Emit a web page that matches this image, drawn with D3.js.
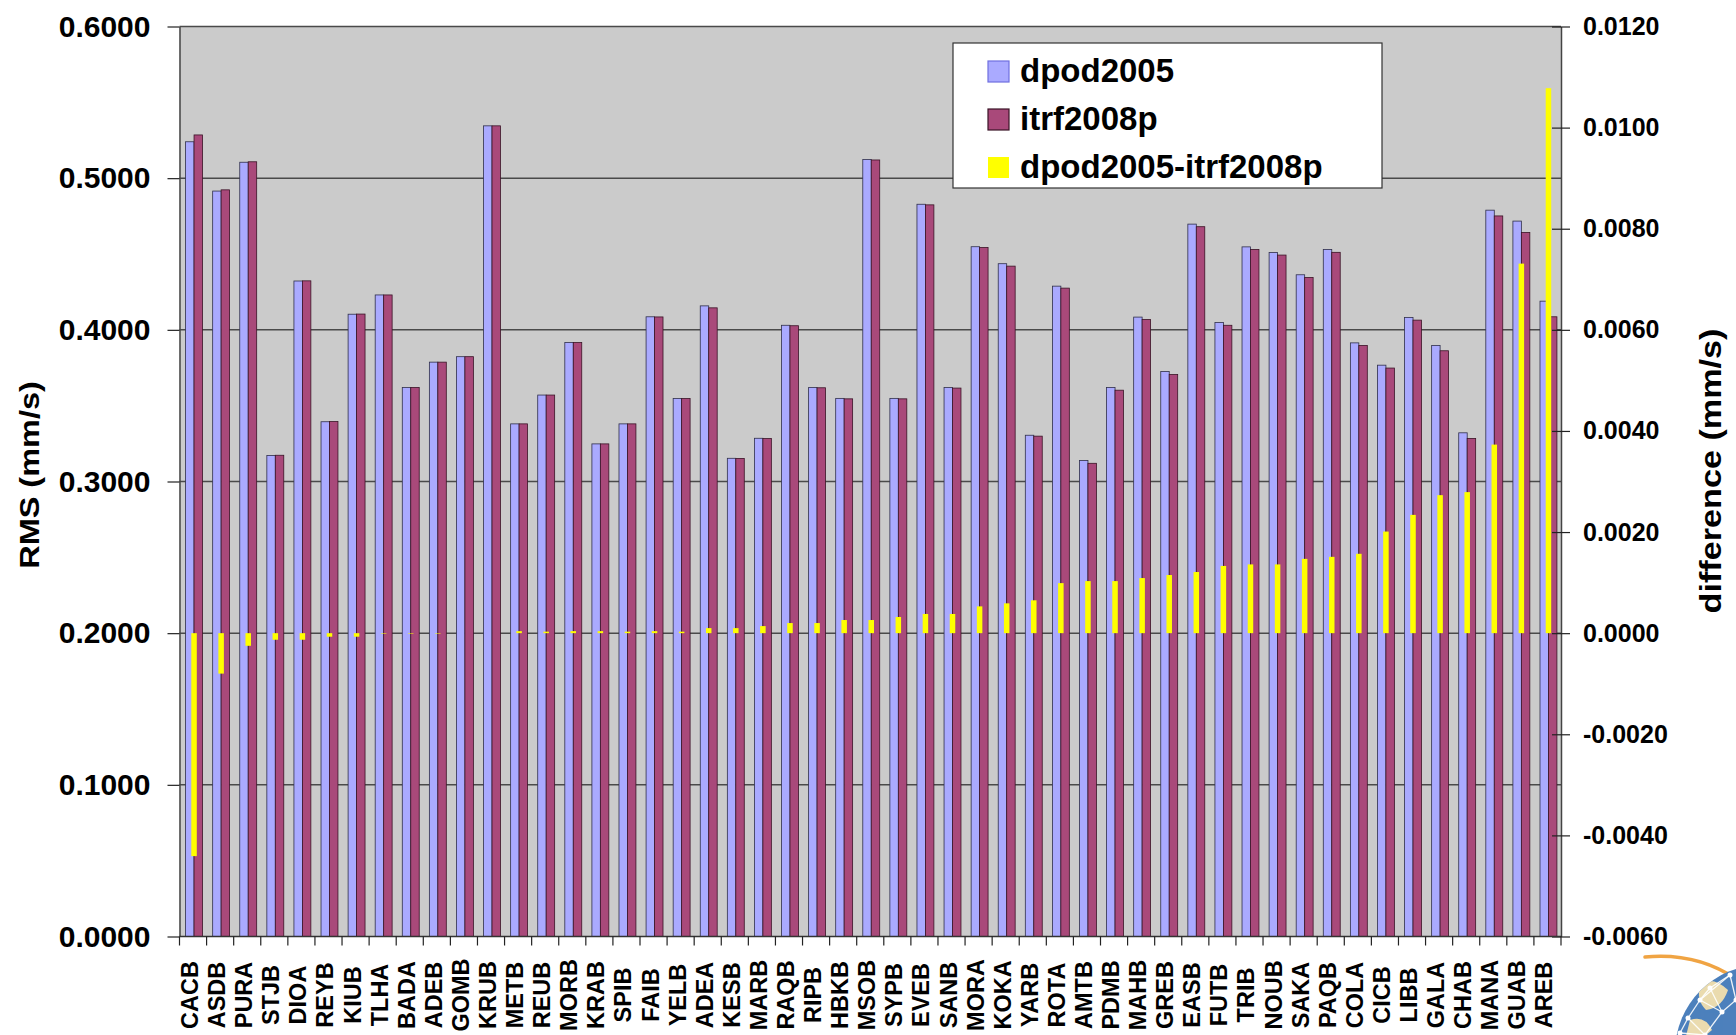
<!DOCTYPE html>
<html>
<head>
<meta charset="utf-8">
<script src="https://cdn.jsdelivr.net/npm/d3@7"></script>
<style>
  body { margin: 0; background: #fff; }
  svg { display: block; }
  text { font-family: "Liberation Sans", Arial, sans-serif; font-weight: bold; fill: #000; }
</style>
</head>
<body>
<svg id="chart" width="1736" height="1035"></svg>
<script>
// Station codes along the category axis
const stations = ["CACB","ASDB","PURA","STJB","DIOA","REYB","KIUB","TLHA","BADA","ADEB",
  "GOMB","KRUB","METB","REUB","MORB","KRAB","SPIB","FAIB","YELB","ADEA",
  "KESB","MARB","RAQB","RIPB","HBKB","MSOB","SYPB","EVEB","SANB","MORA",
  "KOKA","YARB","ROTA","AMTB","PDMB","MAHB","GREB","EASB","FUTB","TRIB",
  "NOUB","SAKA","PAQB","COLA","CICB","LIBB","GALA","CHAB","MANA","GUAB","AREB"];

// RMS of velocity residuals (mm/s), primary axis
const dpod2005 = [0.5240,0.4915,0.5105,0.3172,0.4322,0.3394,0.4103,0.4230,0.3620,0.3787,
  0.3823,0.5345,0.3380,0.3570,0.3917,0.3248,0.3380,0.4086,0.3547,0.4158,
  0.3153,0.3285,0.4030,0.3620,0.3548,0.5123,0.3548,0.4828,0.3620,0.4548,
  0.4436,0.3305,0.4288,0.3138,0.3620,0.4084,0.3725,0.4697,0.4049,0.4547,
  0.4510,0.4363,0.4530,0.3914,0.3767,0.4082,0.3897,0.3321,0.4789,0.4717,0.4189];

const itrf2008p = [0.5285,0.4923,0.5108,0.3173,0.4323,0.3395,0.4104,0.4230,0.3620,0.3787,
  0.3823,0.5345,0.3380,0.3570,0.3916,0.3248,0.3380,0.4085,0.3547,0.4145,
  0.3152,0.3283,0.4027,0.3618,0.3545,0.5120,0.3545,0.4824,0.3616,0.4543,
  0.4420,0.3299,0.4275,0.3120,0.3602,0.4068,0.3705,0.4680,0.4030,0.4530,
  0.4493,0.4345,0.4511,0.3897,0.3748,0.4064,0.3862,0.3284,0.4751,0.4642,0.4086];

// dpod2005 - itrf2008p (mm/s), secondary axis
const difference = [-0.00441,-0.00080,-0.00025,-0.00013,-0.00013,-0.00007,-0.00007,-0.00001,-0.00001,-0.00001,
  0.00000,0.00000,0.00004,0.00003,0.00004,0.00004,0.00003,0.00004,0.00003,0.00010,
  0.00010,0.00014,0.00020,0.00020,0.00026,0.00026,0.00032,0.00038,0.00038,0.00053,
  0.00059,0.00065,0.00099,0.00103,0.00103,0.00109,0.00115,0.00121,0.00133,0.00136,
  0.00136,0.00147,0.00151,0.00157,0.00201,0.00234,0.00273,0.00279,0.00373,0.00731,0.01078];

const rmsTicks = [0, 0.1, 0.2, 0.3, 0.4, 0.5, 0.6];
const diffTicks = [-0.006, -0.004, -0.002, 0, 0.002, 0.004, 0.006, 0.008, 0.010, 0.012];
const seriesNames = ["dpod2005", "itrf2008p", "dpod2005-itrf2008p"];

const colors = { blue: "#AAAAFF", purple: "#A9497A", yellow: "#FFFF00", plot: "#CBCBCB" };

const plotLeft = 179.5, plotRight = 1561, plotTop = 26.5, plotBottom = 936.5;
const svg = d3.select("#chart");

const x = d3.scaleBand().domain(stations).range([plotLeft, plotRight]).paddingInner(0).paddingOuter(0);
const xs = d3.scaleBand().domain(seriesNames.slice(0, 2)).range([0, x.bandwidth()])
  .paddingInner(0).paddingOuter(0.6);
const y = d3.scaleLinear().domain([0, 0.6]).range([plotBottom, plotTop]);
const y2 = d3.scaleLinear().domain([-0.006, 0.012]).range([plotBottom, plotTop]);

// plot area
svg.append("rect").attr("x", plotLeft).attr("y", plotTop)
  .attr("width", plotRight - plotLeft).attr("height", plotBottom - plotTop).attr("fill", colors.plot);

// horizontal gridlines at the RMS ticks
svg.append("g").selectAll("line").data(rmsTicks.filter(d => d > 0)).join("line")
  .attr("x1", plotLeft).attr("x2", plotRight)
  .attr("y1", d => y(d)).attr("y2", d => y(d))
  .attr("stroke", "#4a4a4a").attr("stroke-width", 1.5);

// RMS bars
const rows = stations.map((s, i) => ({ s, dpod2005: dpod2005[i], itrf2008p: itrf2008p[i], diff: difference[i] }));
const barG = svg.append("g").attr("transform", "translate(1,0)");
const groups = barG.selectAll("g").data(rows).join("g")
  .attr("transform", d => `translate(${x(d.s)},0)`);
groups.append("rect")
  .attr("x", xs("dpod2005")).attr("width", xs.bandwidth())
  .attr("y", d => y(d.dpod2005)).attr("height", d => y(0) - y(d.dpod2005))
  .attr("fill", colors.blue).attr("stroke", "#2f2f4a").attr("stroke-width", 0.8);
groups.append("rect")
  .attr("x", xs("itrf2008p")).attr("width", xs.bandwidth())
  .attr("y", d => y(d.itrf2008p)).attr("height", d => y(0) - y(d.itrf2008p))
  .attr("fill", colors.purple).attr("stroke", "#3a1326").attr("stroke-width", 0.8);

// difference bars on the secondary axis
const yw = 5.5;
groups.append("rect")
  .attr("x", x.bandwidth() / 2 - yw / 2).attr("width", yw)
  .attr("y", d => Math.min(y2(0), y2(d.diff)))
  .attr("height", d => Math.abs(y2(d.diff) - y2(0)))
  .attr("fill", colors.yellow);

// left axis
const axL = svg.append("g").attr("transform", `translate(${plotLeft},0)`)
  .call(d3.axisLeft(y).tickValues(rmsTicks).tickFormat(d3.format(".4f"))
    .tickSize(12).tickPadding(17).tickSizeOuter(0));
axL.select(".domain").attr("stroke", "#444").attr("stroke-width", 1.5);
axL.selectAll(".tick line").attr("stroke", "#222").attr("stroke-width", 1.2);
axL.selectAll(".tick text").style("font-size", "30px").attr("fill", "#000");

// right axis
const fmtDiff = d => (d < 0 ? "-" : "") + Math.abs(d).toFixed(4);
const axR = svg.append("g").attr("transform", `translate(${plotRight},0)`)
  .call(d3.axisRight(y2).tickValues(diffTicks).tickFormat(fmtDiff)
    .tickSize(9).tickPadding(13).tickSizeOuter(0));
axR.select(".domain").attr("stroke", "#444").attr("stroke-width", 1.5);
axR.selectAll(".tick line").attr("x1", -9).attr("stroke", "#222").attr("stroke-width", 1.2);
axR.selectAll(".tick text").style("font-size", "25px").attr("fill", "#000");

// category axis: tick marks at band edges, rotated station labels
svg.append("line").attr("x1", plotLeft).attr("x2", plotRight).attr("y1", plotBottom).attr("y2", plotBottom)
  .attr("stroke", "#333").attr("stroke-width", 1.5);
const edges = stations.map(s => x(s)).concat([plotRight]);
svg.append("g").selectAll("line").data(edges).join("line")
  .attr("x1", d => d).attr("x2", d => d).attr("y1", plotBottom).attr("y2", plotBottom + 9)
  .attr("stroke", "#222").attr("stroke-width", 1.2);
svg.append("g").selectAll("text").data(stations).join("text")
  .attr("transform", d => `translate(${x(d) + x.bandwidth() / 2 - 3},995) rotate(-90)`)
  .attr("text-anchor", "middle").attr("dominant-baseline", "central")
  .style("font-size", "23.5px").text(d => d);

// axis titles (slightly stretched along the reading direction)
svg.append("text").attr("transform", "translate(29,475) rotate(-90) scale(1.16,1)")
  .attr("text-anchor", "middle").attr("dominant-baseline", "central")
  .style("font-size", "28px").text("RMS  (mm/s)");
svg.append("text").attr("transform", "translate(1711,471) rotate(-90) scale(1.14,1)")
  .attr("text-anchor", "middle").attr("dominant-baseline", "central")
  .style("font-size", "30px").text("difference  (mm/s)");

// legend
const lg = svg.append("g");
lg.append("rect").attr("x", 953).attr("y", 43).attr("width", 429).attr("height", 145)
  .attr("fill", "#fff").attr("stroke", "#333").attr("stroke-width", 1.2);
const swatches = [
  { fill: colors.blue, stroke: "#6f6fe0" },
  { fill: colors.purple, stroke: "#3a1326" },
  { fill: colors.yellow, stroke: "none" }
];
const rowBase = [82, 130, 178];
seriesNames.forEach((name, i) => {
  lg.append("rect").attr("x", 988).attr("y", rowBase[i] - 21).attr("width", 21).attr("height", 21)
    .attr("fill", swatches[i].fill).attr("stroke", swatches[i].stroke).attr("stroke-width", 1.2);
  lg.append("text").attr("x", 1020).attr("y", rowBase[i]).style("font-size", "33px").text(name);
});

// globe emblem in the corner
const emb = svg.append("g");
emb.append("clipPath").attr("id", "globeClip").append("circle")
  .attr("cx", 1762).attr("cy", 1052).attr("r", 87);
emb.append("path").attr("d", "M1645,957 Q1700,952 1740,982")
  .attr("fill", "none").attr("stroke", "#F0A443").attr("stroke-width", 3.5).attr("stroke-linecap", "round");
emb.append("circle").attr("cx", 1762).attr("cy", 1052).attr("r", 87).attr("fill", "#4D80BC");
const gl = emb.append("g").attr("clip-path", "url(#globeClip)");
gl.append("path").attr("d", "M1700,985 Q1712,975 1728,990 Q1722,1008 1706,1010 Q1696,1000 1700,985 Z")
  .attr("fill", "#EADBB0");
gl.append("path").attr("d", "M1690,1020 Q1705,1015 1712,1030 L1700,1040 L1686,1036 Z")
  .attr("fill", "#EADBB0");
const nodes = [[1710,988],[1688,1018],[1680,1033],[1730,975],[1722,1012],[1736,1000],[1705,1035],[1700,1000]];
const links = [[0,3],[0,7],[7,1],[1,2],[7,4],[4,5],[3,5],[4,6],[1,6],[0,4],[2,6],[7,3]];
gl.selectAll("line").data(links).join("line")
  .attr("x1", d => nodes[d[0]][0]).attr("y1", d => nodes[d[0]][1])
  .attr("x2", d => nodes[d[1]][0]).attr("y2", d => nodes[d[1]][1])
  .attr("stroke", "#fff").attr("stroke-width", 1.3).attr("opacity", 0.9);
gl.selectAll("circle.n").data(nodes).join("circle").attr("class", "n")
  .attr("cx", d => d[0]).attr("cy", d => d[1]).attr("r", 2.5).attr("fill", "#fff");
</script>
</body>
</html>
